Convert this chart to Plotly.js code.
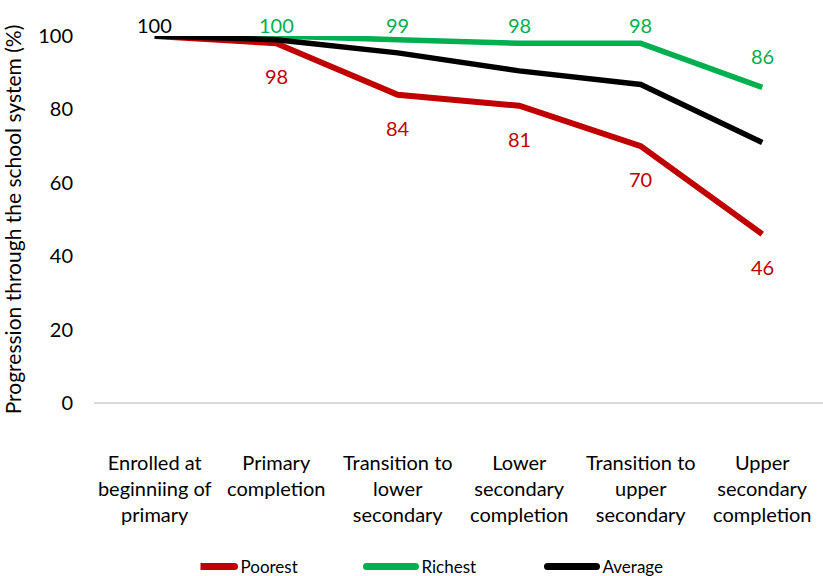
<!DOCTYPE html>
<html><head><meta charset="utf-8">
<script src="https://cdn.plot.ly/plotly-3.0.1.min.js"></script>
<style>html,body{margin:0;padding:0;background:#fff}#chart{width:823px;height:576px}</style>
</head><body><div id="chart"></div>
<script>
const categories = [
  "Enrolled at<br>beginniing of<br>primary",
  "Primary<br>completion",
  "Transition to<br>lower<br>secondary",
  "Lower<br>secondary<br>completion",
  "Transition to<br>upper<br>secondary",
  "Upper<br>secondary<br>completion"
];
const poorest = [100, 98, 84, 81, 70, 46];
const richest = [100, 100, 99, 98, 98, 86];
const average = [100, 99, 95.4, 90.5, 86.8, 71];
const poorestLabels = ["", "98", "84", "81", "70", "46"];
const richestLabels = ["", "100", "99", "98", "98", "86"];
const averageLabels = ["100", "", "", "", "", ""];

const FONT = "Lato, 'Liberation Sans', sans-serif";
const RED = "#C00000", GREEN = "#00B050", BLACK = "#000000";
const M = {l: 94, r: 0, t: 36, b: 173};
const plotH = 576 - M.t - M.b;

function pxFromTop(v){ return (100 - v) / 100 * plotH; }

const annotations = [];
function addLabels(vals, labels, color, above){
  vals.forEach((v, i) => {
    if (!labels[i]) return;
    let shift;
    if (above) {
      const top = M.t + pxFromTop(v);
      shift = Math.min(31, top - 25);
    } else shift = -33;
    annotations.push({x: categories[i], y: v, xref: 'x', yref: 'y', text: labels[i],
      showarrow: false, yshift: shift, xanchor: 'center', yanchor: 'middle',
      font: {family: FONT, size: 20, color: color}});
  });
}
addLabels(poorest, poorestLabels, RED, false);
addLabels(richest, richestLabels, GREEN, true);
addLabels(average, averageLabels, BLACK, true);

const traces = [
  {x: categories, y: poorest, name: 'Poorest', type: 'scatter', mode: 'lines', line: {color: RED, width: 6}, cliponaxis: false},
  {x: categories, y: richest, name: 'Richest', type: 'scatter', mode: 'lines', line: {color: GREEN, width: 5.5}, cliponaxis: false},
  {x: categories, y: average, name: 'Average', type: 'scatter', mode: 'lines', line: {color: BLACK, width: 5.5}, cliponaxis: false}
];

const layout = {
  width: 823, height: 576,
  margin: Object.assign({autoexpand: false}, M),
  paper_bgcolor: '#fff', plot_bgcolor: '#fff',
  font: {family: FONT, size: 20, color: '#000'},
  showlegend: true,
  legend: {orientation: 'h', x: 0.5185, xanchor: 'center', yref: 'container', y: 9/576, yanchor: 'middle',
    font: {family: FONT, size: 17, color: '#000'}, entrywidth: 136, traceorder: 'normal'},
  xaxis: {type: 'category', range: [-0.5, 5.5], showgrid: false, showline: false, zeroline: false,
    ticks: '', ticklabelstandoff: 46, tickfont: {family: FONT, size: 20, color: '#000'}, fixedrange: true},
  yaxis: {range: [0, 100], tickvals: [0, 20, 40, 60, 80, 100], showgrid: false, showline: false,
    zeroline: true, zerolinecolor: '#D9D9D9', zerolinewidth: 1.3, ticks: '', ticklabelstandoff: 20,
    tickfont: {family: FONT, size: 20, color: '#000'},
    title: {text: 'Progression through the school system (%)', standoff: 15, font: {family: FONT, size: 21, color: '#000'}}},
  annotations: annotations
};
function fixLegend(gd){
  gd.querySelectorAll('.legend .legendlines path').forEach(p => {
    p.setAttribute('d', 'M-15,0h49');
    p.style.strokeWidth = '7px';
    p.style.strokeLinecap = 'round';
  });
}
Plotly.newPlot('chart', traces, layout, {displayModeBar: false, staticPlot: true}).then(gd => {
  fixLegend(gd);
  gd.on('plotly_afterplot', () => fixLegend(gd));
  setTimeout(() => fixLegend(gd), 50);
});
</script></body></html>
